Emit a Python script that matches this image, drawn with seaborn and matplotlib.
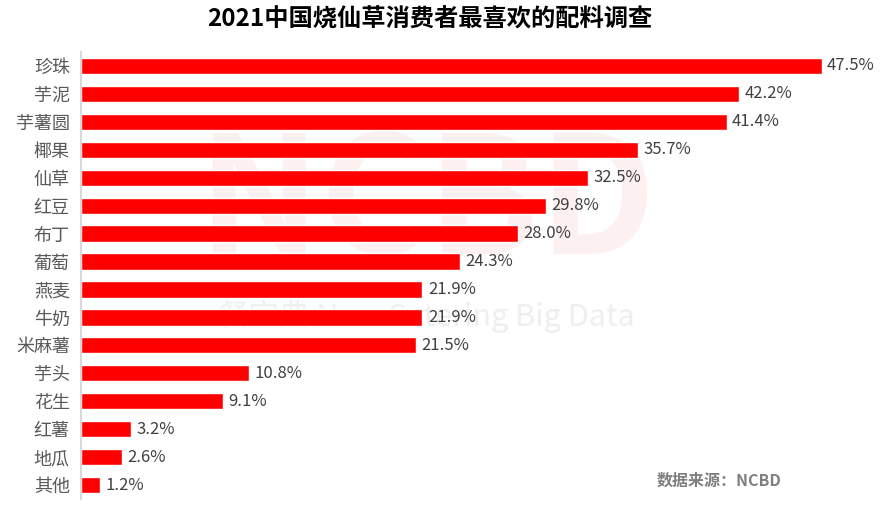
import matplotlib
matplotlib.use("Agg")
import matplotlib.pyplot as plt
import seaborn as sns
import pandas as pd

toppings = ["珍珠", "芋泥", "芋薯圆", "椰果", "仙草", "红豆", "布丁", "葡萄",
            "燕麦", "牛奶", "米麻薯", "芋头", "花生", "红薯", "地瓜", "其他"]
shares = [47.5, 42.2, 41.4, 35.7, 32.5, 29.8, 28.0, 24.3,
          21.9, 21.9, 21.5, 10.8, 9.1, 3.2, 2.6, 1.2]

df = pd.DataFrame({"配料": toppings, "占比": shares})

sns.set_style("white")
plt.rcParams["font.family"] = ["Noto Sans CJK SC", "DejaVu Sans"]

fig = plt.figure(figsize=(8.88, 5.14), dpi=100)
ax = fig.add_axes([0.0912, 0.029, 0.878, 0.870])
ax.patch.set_alpha(0)

# watermark, behind the bars
fig.text(0.48, 0.60, "NCBD", fontsize=118, fontweight="bold", color="#fdf0f1",
         ha="center", va="center", zorder=-1)
fig.text(0.48, 0.385, "餐宝典 New Catering Big Data", fontsize=22, color="#efefef",
         ha="center", va="center", zorder=-1)

sns.barplot(data=df, x="占比", y="配料", color="#ff0000", saturation=1,
            width=0.58, ax=ax, orient="h")

for i, v in enumerate(shares):
    ax.text(v + 0.35, i, f"{v:.1f}%", va="center", ha="left",
            fontsize=12, color="#404040")

ax.set_xlim(0, 50)
ax.set_ylim(15.5, -0.5)
ax.set_xlabel("")
ax.set_ylabel("")
ax.set_xticks([])
ax.tick_params(axis="y", length=0, pad=8, labelsize=13, labelcolor="#595959")
for s in ["top", "right", "bottom"]:
    ax.spines[s].set_visible(False)
ax.spines["left"].set_color("#d9d9d9")
ax.spines["left"].set_linewidth(1.5)

fig.text(0.484, 0.962, "2021中国烧仙草消费者最喜欢的配料调查", fontsize=17.5,
         fontweight="bold", color="black", ha="center", va="center")
fig.text(0.74, 0.064, "数据来源：NCBD", fontsize=11.5, fontweight="bold",
         color="#7f7f7f", ha="left", va="center")

fig.savefig("out.png", dpi=100)
